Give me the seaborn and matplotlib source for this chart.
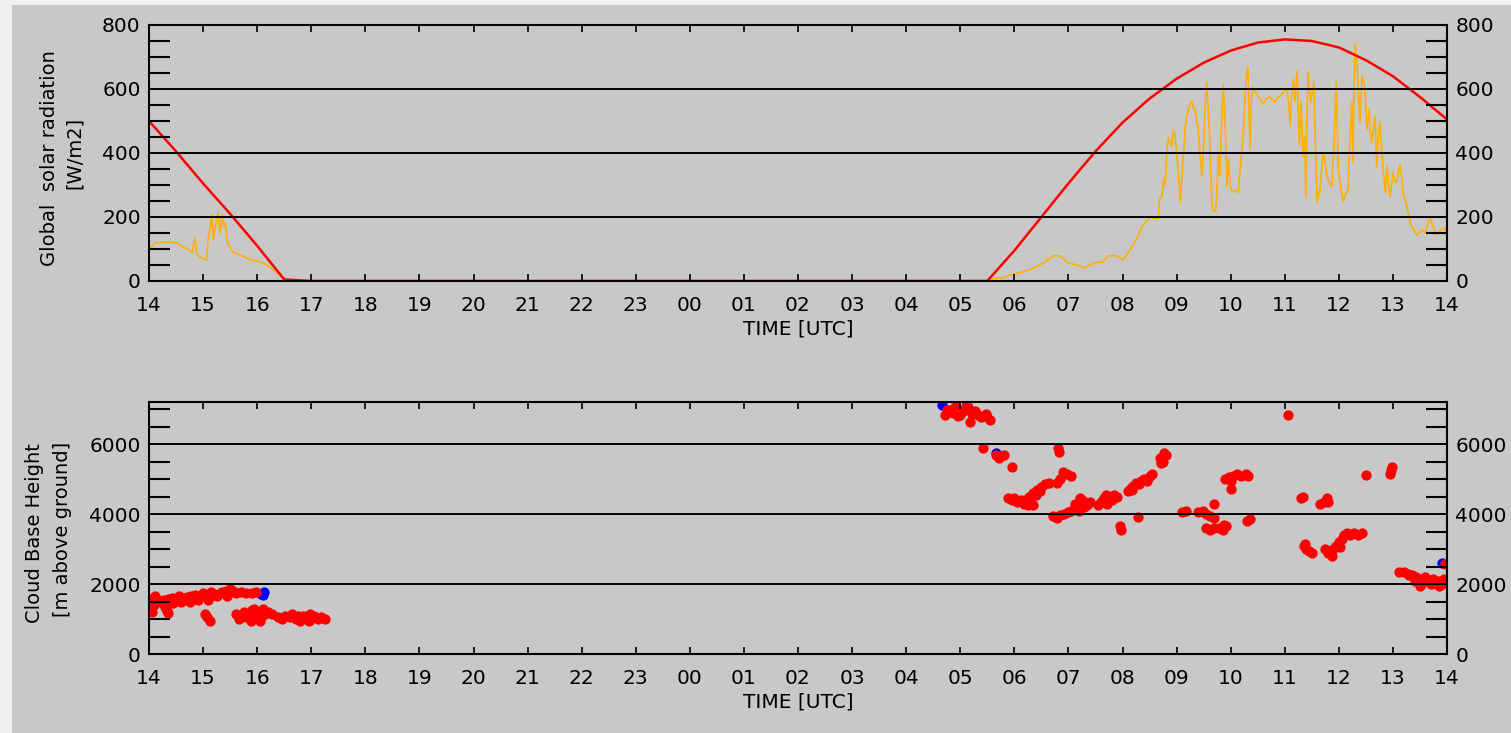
import pandas as pd
import seaborn as sns
import matplotlib.pyplot as plt
from matplotlib.patches import Rectangle
from matplotlib.ticker import MultipleLocator

# Global solar radiation + cloud base height, 24h window 14 UTC -> 14 UTC
# time axis: hours since 14:00 UTC

clear_sky_t = [0, 0.5, 1.0, 1.5, 2.0, 2.5, 3.0, 15.5, 16.0, 16.5, 17.0, 17.5, 18.0,
               18.5, 19.0, 19.5, 20.0, 20.5, 21.0, 21.5, 22.0, 22.5, 23.0, 23.5, 24.0]
clear_sky = [500, 405, 305, 210, 110, 5, 0, 0, 95, 200, 305, 405, 495,
             570, 632, 682, 720, 745, 755, 750, 730, 690, 640, 575, 505]

glob_t = [0.00, 0.11, 0.33, 0.52, 0.63, 0.80, 0.85, 0.88, 0.94, 1.07, 1.09, 1.12, 1.16, 1.19,
          1.22, 1.25, 1.28, 1.31, 1.35, 1.38, 1.41, 1.45, 1.55, 1.68, 1.87, 2.05, 2.18, 2.37,
          2.48, 2.60,
          15.55, 15.61, 15.79, 15.98, 16.16, 16.35, 16.53, 16.72, 16.85, 16.99, 17.16, 17.31,
          17.46, 17.64, 17.73, 17.90, 18.01, 18.14, 18.27, 18.36, 18.51, 18.60, 18.66, 18.69,
          18.73, 18.76, 18.79, 18.82, 18.85, 18.88, 18.91, 18.94, 18.97, 19.00, 19.03, 19.07,
          19.10, 19.12, 19.16, 19.19, 19.23, 19.28, 19.31, 19.34, 19.37, 19.40, 19.43, 19.47,
          19.50, 19.53, 19.56, 19.59, 19.62, 19.65, 19.67, 19.69, 19.72, 19.75, 19.77, 19.80,
          19.83, 19.86, 19.88, 19.90, 19.93, 19.96, 19.99, 20.02, 20.08, 20.14, 20.17, 20.23,
          20.28, 20.32, 20.34, 20.36, 20.38, 20.41, 20.46, 20.51, 20.56, 20.60, 20.66, 20.73,
          20.78, 20.82, 20.87, 20.91, 20.97, 21.04, 21.07, 21.10, 21.13, 21.16, 21.19, 21.23,
          21.25, 21.27, 21.30, 21.32, 21.34, 21.37, 21.39, 21.41, 21.43, 21.46, 21.48, 21.51,
          21.54, 21.57, 21.60, 21.63, 21.65, 21.68, 21.71, 21.74, 21.78, 21.82, 21.87, 21.91,
          21.95, 21.97, 21.99, 22.03, 22.08, 22.12, 22.17, 22.20, 22.24, 22.26, 22.28, 22.30,
          22.33, 22.36, 22.39, 22.43, 22.46, 22.48, 22.52, 22.56, 22.58, 22.61, 22.64, 22.67,
          22.70, 22.73, 22.76, 22.80, 22.83, 22.86, 22.89, 22.92, 22.95, 23.00, 23.03, 23.07,
          23.10, 23.13, 23.16, 23.19, 23.26, 23.32, 23.38, 23.44, 23.49, 23.54, 23.60, 23.65,
          23.69, 23.74, 23.80, 23.85, 23.89, 23.96, 24.00]
glob_rad = [97, 119, 122, 119, 107, 91, 135, 85, 75, 66, 129, 150, 207, 130,
            160, 200, 213, 150, 207, 170, 182, 119, 91, 82, 66, 60, 50, 25,
            9, 0,
            0, 9, 10, 22, 28, 40, 56, 79, 79, 57, 50, 40,
            57, 60, 79, 79, 66, 97, 134, 170, 200, 195, 197, 260,
            265, 317, 300, 410, 449, 430, 421, 470, 458, 400, 348, 245,
            330, 370, 480, 515, 545, 562, 540, 537, 500, 474, 400, 327,
            430, 560, 622, 520, 421, 248, 225, 217, 217, 300, 402, 330,
            480, 615, 560, 474, 295, 380, 300, 279, 285, 276, 339, 452,
            622, 669, 520, 411, 560, 606, 590, 578, 565, 553, 570, 575,
            565, 559, 572, 578, 590, 600, 560, 484, 590, 631, 560, 656,
            540, 421, 560, 480, 389, 450, 264, 500, 653, 600, 559, 590,
            622, 400, 245, 280, 276, 350, 402, 380, 327, 310, 295, 420,
            622, 480, 348, 300, 248, 270, 286, 420, 559, 370, 600, 741,
            694, 600, 496, 641, 620, 609, 474, 537, 470, 433, 480, 515,
            358, 450, 496, 389, 330, 276, 358, 300, 264, 339, 310, 308,
            340, 364, 330, 276, 232, 182, 160, 144, 152, 160, 151, 180,
            198, 170, 144, 152, 160, 166, 150]

cbh_t = [0.00, 0.03, 0.05, 0.08, 0.10, 0.12, 0.17, 0.22, 0.28, 0.30, 0.33, 0.35, 0.35, 0.42,
         0.45, 0.50, 0.55, 0.60, 0.62, 0.70, 0.75, 0.78, 0.85, 0.90, 0.92, 1.00, 1.03, 1.05,
         1.08, 1.10, 1.10, 1.12, 1.15, 1.20, 1.25, 1.28, 1.35, 1.42, 1.45, 1.50, 1.55, 1.60,
         1.70, 1.80, 1.90, 1.97,
         1.60, 1.67, 1.70, 1.75, 1.80, 1.85, 1.88, 1.90, 1.95, 2.00, 2.00, 2.05, 2.05, 2.10,
         2.15, 2.20, 2.27,
         2.38, 2.45, 2.52, 2.60, 2.65, 2.72, 2.75, 2.80, 2.85, 2.90, 2.95, 2.98, 3.05, 3.12,
         3.18, 3.25,
         14.72, 14.75, 14.81, 14.86, 14.90, 14.95, 15.00, 15.05, 15.10, 15.15, 15.18, 15.22,
         15.28, 15.33, 15.38, 15.47, 15.50, 15.55,
         15.42, 15.67, 15.72, 15.74, 15.80, 15.96,
         15.88, 15.95, 16.00, 16.05, 16.12, 16.18, 16.20, 16.25, 16.30, 16.35,
         16.28, 16.35, 16.40, 16.42, 16.48, 16.50, 16.57, 16.65, 16.78, 16.85, 16.90, 16.98,
         17.05, 16.80, 16.82,
         16.72, 16.78, 16.85, 16.92, 17.00, 17.05, 17.10, 17.12, 17.15, 17.20, 17.20, 17.22,
         17.25, 17.28, 17.30, 17.35, 17.40,
         17.55, 17.60, 17.65, 17.70, 17.72, 17.75, 17.80, 17.85, 17.90, 17.95, 17.98, 18.29,
         18.10, 18.15, 18.18, 18.20, 18.25, 18.30, 18.35, 18.40, 18.45, 18.50, 18.55,
         18.70, 18.72, 18.74, 18.76, 18.80,
         19.10, 19.17, 19.40, 19.48, 19.55, 19.62, 19.70, 19.69,
         19.55, 19.62, 19.70, 19.78, 19.85, 19.88, 19.92, 20.00,
         19.90, 19.97, 20.00, 20.05, 20.12, 20.20, 20.28, 20.32, 20.31, 20.35,
         21.06, 21.30, 21.33, 21.35, 21.38, 21.40, 21.45, 21.50,
         21.65, 21.72, 21.78, 21.80,
         21.75, 21.80, 21.85, 21.88, 21.90, 21.95, 22.00, 22.02, 22.05, 22.10, 22.15, 22.20,
         22.28, 22.35, 22.42, 22.50, 22.95, 22.97, 22.98,
         23.12, 23.20, 23.28, 23.30, 23.35, 23.40, 23.42, 23.50, 23.50, 23.55, 23.60, 23.65,
         23.70, 23.75, 23.80, 23.85, 23.85, 23.90, 23.95, 23.97]
cbh_m = [1350, 1500, 1200, 1600, 1400, 1650, 1550, 1500, 1550, 1350, 1230, 1580, 1170, 1600,
         1450, 1550, 1650, 1500, 1600, 1620, 1500, 1650, 1700, 1550, 1650, 1750, 1150, 1650,
         1050, 1700, 1550, 950, 1780, 1700, 1650, 1720, 1760, 1800, 1650, 1850, 1800, 1750,
         1760, 1750, 1750, 1780,
         1150, 1000, 1100, 1200, 1050, 1100, 950, 1250, 1300, 1200, 1050, 1000, 950, 1300,
         1150, 1200, 1150,
         1050, 1000, 1100, 1050, 1150, 1000, 1100, 950, 1100, 1050, 950, 1150, 1100, 1000,
         1050, 1000,
         6830, 6980, 6970, 6900, 7050, 6800, 6830, 6950, 7100, 7060, 6630, 6850,
         6950, 6830, 6780, 6850, 6770, 6700,
         5890, 5700, 5600, 5650, 5700, 5350,
         4450, 4400, 4450, 4350, 4400, 4300, 4400, 4250, 4300, 4250,
         4500, 4600, 4550, 4700, 4650, 4780, 4850, 4900, 4880, 5000, 5200, 5150,
         5100, 5880, 5780,
         3950, 3900, 3980, 4000, 4050, 4100, 4150, 4300, 4200, 4300, 4100, 4450,
         4400, 4200, 4350, 4250, 4350,
         4250, 4350, 4450, 4550, 4300, 4500, 4400, 4550, 4500, 3650, 3530, 3910,
         4650, 4750, 4700, 4800, 4900, 4850, 4950, 5000, 4950, 5100, 5150,
         5600, 5450, 5500, 5750, 5700,
         4060, 4080, 4050, 4100, 4000, 3950, 3900, 4300,
         3600, 3550, 3600, 3600, 3550, 3700, 3650, 4710,
         5000, 5050, 4950, 5100, 5150, 5100, 5150, 5100, 3800, 3850,
         6830, 4460, 4500, 3100, 3150, 3000, 2950, 2900,
         4300, 4350, 4450, 4350,
         3000, 2900, 2850, 2800, 3000, 3100, 3200, 3050, 3300, 3400, 3450, 3400,
         3450, 3400, 3450, 5110, 5150, 5250, 5350,
         2350, 2350, 2300, 2250, 2250, 2100, 2200, 2150, 1950, 2050, 2200, 2100,
         2000, 2150, 2050, 2100, 1950, 2000, 2150, 2580]

blue_t = [2.08, 2.10, 2.13, 14.66, 15.67, 23.90]
blue_m = [1720, 1700, 1780, 7110, 5750, 2600]

hour_labels = ['%02d' % ((14 + h) % 24) for h in range(25)]

BG = '#c8c8c8'
sns.set_style("ticks")
plt.rcParams['font.family'] = ['DejaVu Sans']
plt.rcParams['axes.linewidth'] = 1.5
plt.rcParams['text.color'] = 'black'
plt.rcParams['axes.labelcolor'] = 'black'
plt.rcParams['xtick.color'] = 'black'
plt.rcParams['ytick.color'] = 'black'

fig = plt.figure(figsize=(15.11, 7.33), dpi=100, facecolor='#f0f0f0')
fig.add_artist(Rectangle((12 / 1511, 0), 1, 1 - 5 / 733, transform=fig.transFigure,
                         facecolor=BG, edgecolor='none', zorder=-5))

ax1 = fig.add_axes([149 / 1511, 1 - 281 / 733, 1298 / 1511, 256 / 733])
ax2 = fig.add_axes([149 / 1511, 1 - 654 / 733, 1298 / 1511, 252 / 733])

# top panel
sns.lineplot(x=glob_t, y=glob_rad, color='#ffb000', lw=1.2, sort=False, estimator=None, ax=ax1)
sns.lineplot(x=clear_sky_t, y=clear_sky, color='#ff0000', lw=1.8, sort=False, estimator=None, ax=ax1)
ax1.set_ylim(0, 800)
ax1.yaxis.set_major_locator(MultipleLocator(200))
ax1.yaxis.set_minor_locator(MultipleLocator(50))

# bottom panel
df_blue = pd.DataFrame({'t': blue_t, 'h': blue_m})
df_red = pd.DataFrame({'t': cbh_t, 'h': cbh_m})
sns.scatterplot(data=df_blue, x='t', y='h', color='#0000ff', s=55, linewidth=0, marker='o', ax=ax2)
sns.scatterplot(data=df_red, x='t', y='h', color='#ff0000', s=55, linewidth=0, marker='o', ax=ax2)
ax2.set_ylim(0, 7200)
ax2.yaxis.set_major_locator(MultipleLocator(2000))
ax2.yaxis.set_minor_locator(MultipleLocator(500))

for ax in (ax1, ax2):
    ax.set_facecolor(BG)
    ax.set_xlim(0, 24)
    ax.set_xticks(range(25))
    ax.set_xticklabels(hour_labels)
    ax.grid(axis='y', which='major', color='black', lw=1.4)
    ax.set_axisbelow(False)
    for sp in ax.spines.values():
        sp.set_visible(True)
        sp.set_color('black')
    ax.tick_params(axis='x', direction='in', length=5, width=1.2, top=True, bottom=True,
                   labelsize=14.5, pad=11, colors='black')
    ax.tick_params(axis='y', which='major', length=0, left=True, right=True,
                   labelleft=True, labelright=True, labelsize=14.5, pad=6, colors='black')
    ax.tick_params(axis='y', which='minor', direction='in', length=15, width=1.5,
                   left=True, right=True, colors='black')
    ax.set_xlabel('TIME [UTC]', fontsize=14.5, labelpad=3, color='black')
    ax.set_ylabel('')

fig.text(50 / 1511, 1 - 158 / 733, 'Global  solar radiation', rotation=90,
         ha='center', va='center', fontsize=14, color='black')
fig.text(74 / 1511, 1 - 153 / 733, '[W/m2]', rotation=90, ha='center', va='center',
         fontsize=14, color='black')
fig.text(35 / 1511, 1 - 533 / 733, 'Cloud Base Height', rotation=90,
         ha='center', va='center', fontsize=14, color='black')
fig.text(62 / 1511, 1 - 529 / 733, '[m above ground]', rotation=90,
         ha='center', va='center', fontsize=14, color='black')

fig.savefig('out.png', dpi=100, facecolor=fig.get_facecolor())
